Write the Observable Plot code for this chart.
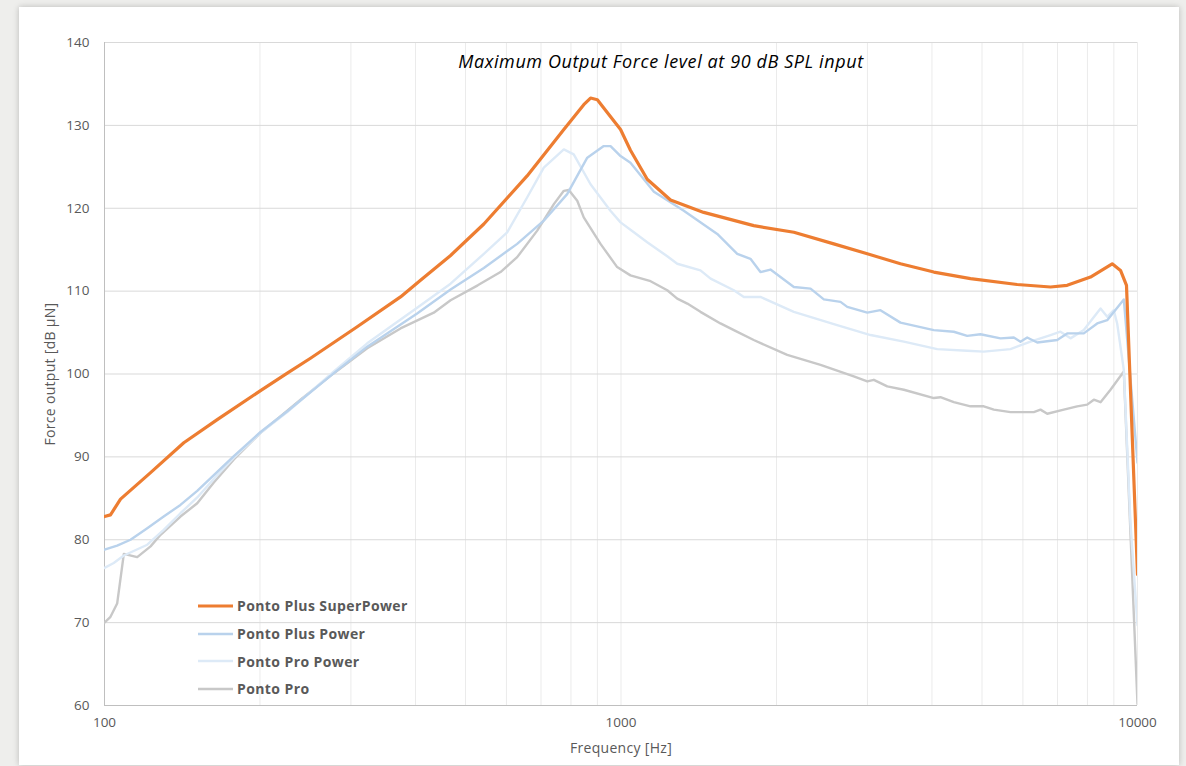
<!DOCTYPE html>
<html>
<head>
<meta charset="utf-8">
<script src="https://cdn.jsdelivr.net/npm/d3@7"></script>
<script src="https://cdn.jsdelivr.net/npm/@observablehq/plot@0.6"></script>
<style>
  html, body { margin: 0; padding: 0; background: #eeeeec; }
  body { width: 1186px; height: 766px; position: relative; overflow: hidden; font-family: "Open Sans", sans-serif; }
  #card { position: absolute; left: 19px; top: 7px; width: 1160px; height: 758px; background: #fff; box-shadow: 0 0 6px rgba(0,0,0,0.22); }
  #chart { position: absolute; left: 0; top: 0; }
  #legend { position: absolute; left: 198px; top: 592px; font: bold 14px "Open Sans", sans-serif; letter-spacing: 0.4px; color: #595959; }
  .row { height: 27.7px; display: flex; align-items: center; }
  .sw { width: 35px; margin-right: 4px; }
</style>
</head>
<body>
<div id="card"></div>
<div id="chart"></div>
<div id="legend"></div>
<script>
// ---- data ----
const seriesNames = ["Ponto Plus SuperPower", "Ponto Plus Power", "Ponto Pro Power", "Ponto Pro"];
const seriesColors = ["#ED7D31", "#B9D2EC", "#DDEAF7", "#C8C8C8"];
const seriesWidths = [3.2, 2.4, 2.4, 2.4];

const superPowerFreq = [100, 102.7, 107.4, 122.8, 142.4, 165.3, 200.5, 225.9, 250.5, 308.5, 374.2, 409.1, 467.8, 542.6, 658, 775, 847, 873, 900, 926, 998, 1043, 1124, 1247, 1446, 1807, 2161, 2582, 2998, 3476, 4033, 4750, 5848, 6786, 7309, 8110, 8933, 9271, 9521, 10000];
const superPowerLevel = [82.8, 83.0, 84.9, 88.1, 91.7, 94.5, 98.0, 100.1, 101.9, 105.7, 109.3, 111.3, 114.3, 118.1, 123.9, 129.5, 132.5, 133.3, 133.1, 132.1, 129.5, 127.0, 123.5, 121.0, 119.5, 117.9, 117.1, 115.7, 114.5, 113.3, 112.3, 111.5, 110.8, 110.5, 110.7, 111.7, 113.3, 112.5, 110.7, 75.8];

const plusPowerFreq = [100, 105.8, 112.3, 121.0, 130.2, 140.3, 151.2, 165.3, 178, 200.5, 225.9, 278, 322.6, 403, 467.8, 542.6, 629.5, 708.8, 786.6, 860.4, 926, 954.4, 998, 1043, 1158, 1323, 1536, 1679, 1781, 1862, 1947, 2161, 2328, 2470, 2661, 2742, 2998, 3179, 3476, 4033, 4409, 4680, 4966, 5430, 5762, 5935, 6116, 6395, 6991, 7309, 7870, 8356, 8737, 9408, 10000];
const plusPowerLevel = [78.8, 79.3, 80.0, 81.4, 82.8, 84.2, 85.9, 88.2, 90.1, 93.0, 95.5, 100.1, 103.3, 107.3, 110.2, 112.8, 115.7, 118.5, 121.7, 126.1, 127.5, 127.5, 126.3, 125.5, 122.0, 119.7, 116.9, 114.5, 113.9, 112.3, 112.6, 110.5, 110.3, 109.0, 108.7, 108.1, 107.4, 107.7, 106.2, 105.3, 105.1, 104.6, 104.8, 104.3, 104.4, 103.9, 104.4, 103.8, 104.1, 104.9, 104.9, 106.1, 106.5, 109.0, 89.3];

const proPowerFreq = [100, 104.2, 109, 121, 130.2, 140.3, 151.2, 165.3, 178, 200.5, 225.9, 278, 322.6, 403, 467.8, 542.6, 602, 658, 708.8, 775, 810, 873, 954, 998, 1059, 1124, 1229, 1285, 1425, 1491, 1654, 1729, 1862, 2161, 2621, 3042, 3529, 4095, 4680, 5040, 5677, 6206, 6786, 7094, 7418, 7870, 8481, 8737, 8997, 9133, 9408, 9692, 10000];
const proPowerLevel = [76.6, 77.2, 78.1, 79.4, 81.2, 83.2, 85.1, 87.8, 89.9, 92.9, 95.4, 100.3, 103.7, 108.0, 110.9, 114.5, 117.1, 121.3, 124.9, 127.1, 126.5, 122.9, 119.7, 118.3, 117.1, 115.9, 114.2, 113.3, 112.5, 111.5, 110.1, 109.3, 109.3, 107.5, 105.9, 104.7, 103.9, 103.0, 102.8, 102.7, 103.0, 103.9, 104.7, 105.1, 104.3, 105.3, 107.9, 106.9, 107.7, 106.1, 100.5, 82.0, 69.7];

const proFreq = [100, 102.7, 105.8, 109, 115.7, 122.8, 128.4, 140.3, 151.2, 162.8, 178, 200.5, 239.6, 278, 322.6, 374.2, 434, 467.8, 528, 584.4, 629.5, 688.3, 741.3, 775, 792.3, 822.8, 847, 912.7, 983, 1043, 1141, 1229, 1285, 1344, 1425, 1558, 1654, 1807, 2098, 2434, 2823, 2998, 3087, 3277, 3529, 4033, 4154, 4409, 4750, 5040, 5270, 5677, 6298, 6489, 6688, 7199, 7642, 7991, 8231, 8481, 8866, 9408, 10000];
const proLevel = [70.0, 70.7, 72.3, 78.3, 77.9, 79.2, 80.6, 82.8, 84.4, 86.9, 89.7, 92.9, 96.9, 100.1, 103.1, 105.5, 107.4, 108.9, 110.7, 112.3, 114.1, 117.3, 120.5, 122.1, 122.2, 120.9, 118.9, 115.7, 112.9, 111.9, 111.2, 110.1, 109.1, 108.5, 107.5, 106.1, 105.3, 104.1, 102.3, 101.1, 99.7, 99.1, 99.3, 98.5, 98.1, 97.1, 97.2, 96.6, 96.1, 96.1, 95.7, 95.4, 95.4, 95.7, 95.2, 95.7, 96.1, 96.3, 96.9, 96.6, 98.1, 100.3, 60.2];

const yTicks = [60, 70, 80, 90, 100, 110, 120, 130, 140];
const xTicks = [100, 1000, 10000];
const xGrid = [200, 300, 400, 500, 600, 700, 800, 900, 1000, 2000, 3000, 4000, 5000, 6000, 7000, 8000, 9000, 10000];

const titleText = "Maximum Output Force level at 90 dB SPL input";
const xLabel = "Frequency [Hz]";
const yLabel = "Force output [dB µN]";

// ---- build table ----
const freqs = [superPowerFreq, plusPowerFreq, proPowerFreq, proFreq];
const levels = [superPowerLevel, plusPowerLevel, proPowerLevel, proLevel];
const drawOrder = [3, 2, 1, 0];

const lineMarks = drawOrder.map(i =>
  Plot.line(freqs[i].map((f, k) => ({f, v: levels[i][k]})), {
    x: "f", y: "v", stroke: seriesColors[i], strokeWidth: seriesWidths[i],
    curve: "linear", strokeLinejoin: "round", strokeLinecap: "round", clip: true
  })
);

const chart = Plot.plot({
  width: 1186,
  height: 766,
  marginLeft: 104,
  marginRight: 49,
  marginTop: 42,
  marginBottom: 61,
  style: { background: "transparent", fontFamily: "'Open Sans', sans-serif", fontSize: "13px", color: "#595959" },
  x: { type: "log", domain: [100, 10000] },
  y: { domain: [60, 140] },
  marks: [
    Plot.ruleX(xGrid, { stroke: "#ebebeb", strokeWidth: 1 }),
    Plot.ruleY(yTicks.slice(1), { stroke: "#d9d9d9", strokeWidth: 1 }),
    Plot.ruleX([100], { stroke: "#bfbfbf", strokeWidth: 1 }),
    Plot.ruleY([60], { stroke: "#bfbfbf", strokeWidth: 1 }),
    ...lineMarks,
    Plot.axisY({ ticks: yTicks, tickSize: 0, tickPadding: 15, label: null, fill: "#595959", fontSize: 13.5 }),
    Plot.axisX({ ticks: xTicks, tickFormat: d => String(d), tickSize: 0, tickPadding: 12, label: null, fill: "#595959", fontSize: 13.5 }),
    Plot.text([titleText], { frameAnchor: "top", text: d => d, dx: 40, dy: 20, fontSize: 18, fontStyle: "italic", fill: "#000", lineAnchor: "middle", textAnchor: "middle", style: "letter-spacing:0.6px" }),
    Plot.text([xLabel], { frameAnchor: "bottom", text: d => d, dy: 43, fontSize: 14, fill: "#595959", lineAnchor: "middle", textAnchor: "middle" }),
    Plot.text([yLabel], { frameAnchor: "left", text: d => d, dx: -54, rotate: -90, fontSize: 14, fill: "#595959", lineAnchor: "middle", textAnchor: "middle" })
  ]
});
chart.querySelectorAll("text").forEach(t => {
  if (t.textContent === titleText) t.style.letterSpacing = "0.6px";
  if (t.textContent === xLabel || t.textContent === yLabel) t.style.letterSpacing = "0.3px";
});
document.getElementById("chart").appendChild(chart);

// ---- legend ----
const legend = document.getElementById("legend");
seriesNames.forEach((name, i) => {
  const row = document.createElement("div");
  row.className = "row";
  row.innerHTML = `<svg class="sw" width="35" height="6"><line x1="0" y1="3" x2="35" y2="3" stroke="${seriesColors[i]}" stroke-width="${seriesWidths[i]}"/></svg><span>${name}</span>`;
  legend.appendChild(row);
});
</script>
</body>
</html>
